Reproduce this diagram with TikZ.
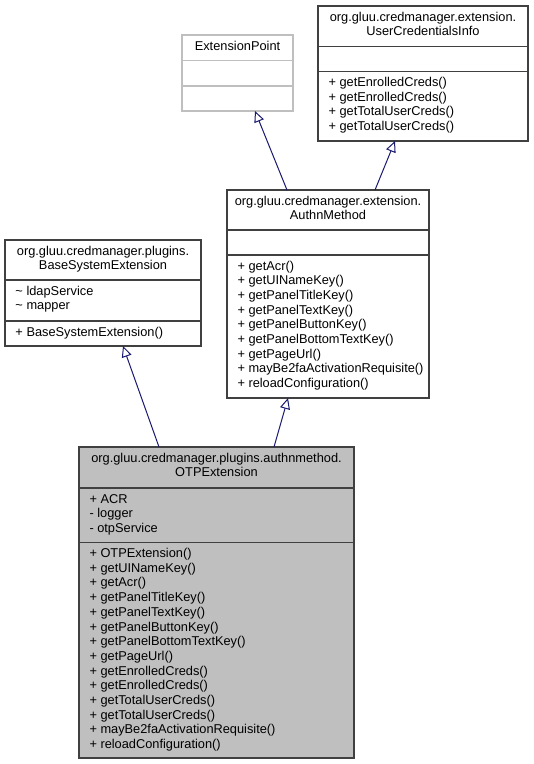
\documentclass[tikz,border=0pt]{standalone}
\usepackage{fontspec}
\setmainfont{Liberation Sans}
\usetikzlibrary{arrows.meta}
\definecolor{edgeblue}{HTML}{191970}
\definecolor{boxline}{HTML}{404040}
\definecolor{extline}{HTML}{BFBFBF}
\definecolor{otpfill}{HTML}{BFBFBF}
\begin{document}
\begin{tikzpicture}[x=1pt,y=-1pt,
  box/.style={rectangle, draw=boxline, line width=1.1pt, fill=white, inner sep=0pt, outer sep=0pt},
  extbox/.style={box, draw=extline},
  sepline/.style={draw=boxline, line width=1.1pt},
  extsep/.style={draw=extline, line width=1.1pt},
  txt/.style={inner sep=0pt, outer sep=0pt, font=\fontsize{12.8}{14.7}\selectfont},
  inh/.style={draw=edgeblue, line width=1pt, -{Triangle[open, length=11pt, width=10pt]}}
]
\useasboundingbox (0,0) rectangle (534,764);

% ExtensionPoint
\node[extbox, minimum width=111pt, minimum height=76pt] (ep) at (237.5,73) {};
\draw[extsep] ([yshift=-25.5pt]ep.north west) -- ([yshift=-25.5pt]ep.north east);
\draw[extsep] ([yshift=-51pt]ep.north west) -- ([yshift=-51pt]ep.north east);
\node[txt, anchor=base] (epT) at (237.5,50) {ExtensionPoint};

% UserCredentialsInfo
\node[box, minimum width=210pt, minimum height=135pt] (uci) at (423,73.5) {};
\draw[sepline] ([yshift=-40.5pt]uci.north west) -- ([yshift=-40.5pt]uci.north east);
\draw[sepline] ([yshift=-65.5pt]uci.north west) -- ([yshift=-65.5pt]uci.north east);
\node[txt, anchor=base] (uciT1) at (423,21) {org.gluu.credmanager.extension.};
\node[txt, anchor=base] (uciT2) at (423,35.7) {UserCredentialsInfo};
\foreach \t [count=\i from 0] in {+ getEnrolledCreds(), + getEnrolledCreds(), + getTotalUserCreds(), + getTotalUserCreds()}
  \node[txt, anchor=base west] (uciM\i) at (328.5,{86.5+14.7*\i}) {\t};

% AuthnMethod
\node[box, minimum width=202pt, minimum height=208pt] (am) at (328,294) {};
\draw[sepline] ([yshift=-40pt]am.north west) -- ([yshift=-40pt]am.north east);
\draw[sepline] ([yshift=-65pt]am.north west) -- ([yshift=-65pt]am.north east);
\node[txt, anchor=base] (amT1) at (328,205) {org.gluu.credmanager.extension.};
\node[txt, anchor=base] (amT2) at (328,219.7) {AuthnMethod};
\foreach \t [count=\i from 0] in {+ getAcr(), + getUINameKey(), + getPanelTitleKey(), + getPanelTextKey(), + getPanelButtonKey(), + getPanelBottomTextKey(), + getPageUrl(), + mayBe2faActivationRequisite(), + reloadConfiguration()}
  \node[txt, anchor=base west] (amM\i) at (237.5,{270+14.7*\i}) {\t};

% BaseSystemExtension
\node[box, minimum width=196pt, minimum height=106pt] (bse) at (103,293) {};
\draw[sepline] ([yshift=-40pt]bse.north west) -- ([yshift=-40pt]bse.north east);
\draw[sepline] ([yshift=-81pt]bse.north west) -- ([yshift=-81pt]bse.north east);
\node[txt, anchor=base] (bseT1) at (103,255) {org.gluu.credmanager.plugins.};
\node[txt, anchor=base] (bseT2) at (103,269.7) {BaseSystemExtension};
\node[txt, anchor=base west] (bseA0) at (15.5,295) {\textasciitilde{} ldapService};
\node[txt, anchor=base west] (bseA1) at (15.5,309.7) {\textasciitilde{} mapper};
\node[txt, anchor=base west] (bseM0) at (15.5,336) {+ BaseSystemExtension()};

% OTPExtension
\node[box, fill=otpfill, minimum width=275pt, minimum height=311pt] (otp) at (216.5,602.5) {};
\draw[sepline] ([yshift=-41pt]otp.north west) -- ([yshift=-41pt]otp.north east);
\draw[sepline] ([yshift=-95.5pt]otp.north west) -- ([yshift=-95.5pt]otp.north east);
\node[txt, anchor=base] (otpT1) at (216.5,462) {org.gluu.credmanager.plugins.authnmethod.};
\node[txt, anchor=base] (otpT2) at (216.5,476.7) {OTPExtension};
\foreach \t [count=\i from 0] in {+ ACR, - logger, - otpService}
  \node[txt, anchor=base west] (otpA\i) at (89.5,{503+14.7*\i}) {\t};
\foreach \t [count=\i from 0] in {+ OTPExtension(), + getUINameKey(), + getAcr(), + getPanelTitleKey(), + getPanelTextKey(), + getPanelButtonKey(), + getPanelBottomTextKey(), + getPageUrl(), + getEnrolledCreds(), + getEnrolledCreds(), + getTotalUserCreds(), + getTotalUserCreds(), + mayBe2faActivationRequisite(), + reloadConfiguration()}
  \node[txt, anchor=base west] (otpM\i) at (89.5,{557.5+14.7*\i}) {\t};

% inheritance connectors
\draw[inh] ([xshift=80pt]otp.north west) -- ([xshift=118pt]bse.south west);
\draw[inh] ([xshift=195pt]otp.north west) -- ([xshift=61pt]am.south west);
\draw[inh] ([xshift=60pt]am.north west) -- ([xshift=73pt]ep.south west);
\draw[inh] ([xshift=148pt]am.north west) -- ([xshift=77pt]uci.south west);
\end{tikzpicture}
\end{document}
